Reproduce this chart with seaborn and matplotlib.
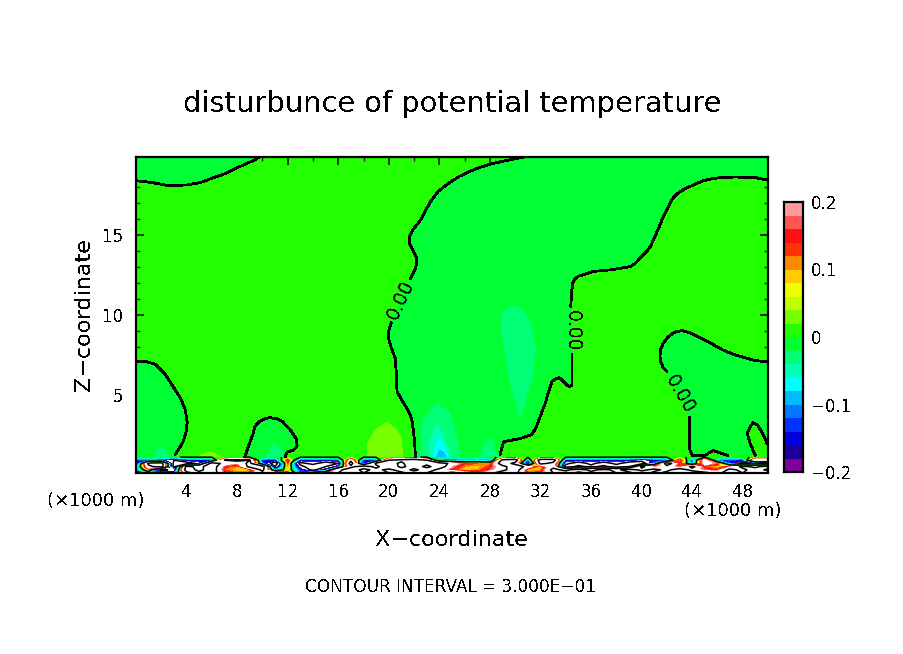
import numpy as np
import matplotlib
matplotlib.use('Agg')
import matplotlib.pyplot as plt
from matplotlib.colors import ListedColormap, BoundaryNorm
import seaborn as sns

# contour bands of the colour bar, low to high
band_colors = ['#800099', '#1a0099', '#0000dd', '#0033ff', '#0077ff', '#00bbff', '#00ffff', '#00ffbb', '#00ff77', '#00ff33',
               '#22ff00', '#77ff00', '#bbff00', '#f0ff00', '#ffcc00', '#ff8800', '#ff3300', '#ff1010', '#ff5555', '#ff9a9a']
band_edges = [-0.2, -0.18, -0.16, -0.14, -0.12, -0.1, -0.08, -0.06, -0.04, -0.02, 0.0,
              0.02, 0.04, 0.06, 0.08, 0.1, 0.12, 0.14, 0.16, 0.18, 0.2]
cbar_ticks = [0.2, 0.1, 0, -0.1, -0.2]
cbar_labels = ['0.2', '0.1', '0', '\u22120.1', '\u22120.2']

# zero contour, (x, z) in km
top_left_x = [0.0, 1.3, 2.5, 4.0, 5.1, 6.1, 7.2, 8.2, 9.2, 9.9]
top_left_z = [18.37, 18.25, 18.07, 18.1, 18.25, 18.55, 18.85, 19.25, 19.6, 19.9]
mid_upper_x = [31.0, 30.1, 29.0, 28.0, 27.2, 26.4, 25.6, 24.8, 23.9, 23.3, 22.9, 22.5, 21.9, 21.65, 21.6, 21.9, 22.2, 22.2, 22.07, 21.7]
mid_upper_z = [19.9, 19.75, 19.58, 19.4, 19.2, 18.95, 18.65, 18.25, 17.7, 17.05, 16.5, 15.9, 15.3, 14.9, 14.5, 14.0, 13.55, 13.2, 12.8, 12.25]
mid_lower_x = [20.2, 20.0, 19.95, 20.2, 20.5, 20.6, 20.65, 21.0, 21.5, 21.8, 21.9, 22.05, 22.1]
mid_lower_z = [9.5, 9.0, 8.6, 7.9, 7.3, 6.3, 5.2, 4.7, 4.06, 3.5, 3.0, 2.0, 1.1]
right_lower_x = [28.8, 28.95, 29.1, 29.7, 30.4, 31.3, 31.6, 31.8, 32.1, 32.4, 32.6, 32.9, 33.1, 33.5, 33.8, 34.1, 34.3, 34.5, 34.5]
right_lower_z = [1.25, 1.7, 2.06, 2.15, 2.25, 2.5, 2.85, 3.25, 3.9, 4.5, 5.1, 5.8, 5.95, 6.05, 5.85, 5.6, 5.5, 5.6, 7.5]
right_upper_x = [34.4, 34.45, 34.55, 34.75, 35.0, 35.6, 36.2, 37.6, 39.1, 39.5, 39.9, 40.4, 40.7, 41.0, 41.3, 41.7, 42.2, 42.5, 42.9, 43.5, 44.1, 44.8, 45.6, 46.5, 47.5, 49.1, 50.0]
right_upper_z = [10.5, 11.3, 12.0, 12.25, 12.4, 12.55, 12.7, 12.8, 13.0, 13.2, 13.56, 13.95, 14.25, 14.8, 15.3, 16.1, 16.9, 17.3, 17.6, 17.9, 18.1, 18.35, 18.5, 18.58, 18.6, 18.55, 18.4]
dome_upper_x = [50.0, 49.0, 48.2, 47.3, 46.4, 45.5, 44.6, 43.9, 43.2, 42.6, 42.1, 41.7, 41.5, 41.45, 41.5, 41.7, 42.0]
dome_upper_z = [7.06, 7.12, 7.3, 7.5, 7.8, 8.2, 8.55, 8.85, 9.0, 8.9, 8.6, 8.2, 7.8, 7.4, 7.06, 6.7, 6.45]
dome_lower_x = [43.8, 43.8, 44.0, 45.0, 45.65, 46.8]
dome_lower_z = [3.6, 1.6, 1.2, 1.2, 1.5, 1.2]
notch_x = [49.0, 48.6, 48.35, 48.8, 49.2, 49.6, 50.0]
notch_z = [1.2, 1.9, 2.6, 3.25, 3.1, 2.5, 1.9]
left_x = [0.0, 0.8, 1.5, 2.3, 2.85, 3.5, 3.9, 4.05, 3.95, 3.7, 3.1]
left_z = [7.06, 7.06, 6.9, 6.3, 5.6, 4.8, 4.06, 3.25, 2.6, 2.0, 1.25]
hill_x = [8.6, 8.9, 9.25, 9.4, 9.75, 10.2, 10.6, 11.1, 11.6, 12.2, 12.7, 12.75, 12.5, 11.95, 11.8]
hill_z = [1.1, 1.8, 2.5, 3.0, 3.3, 3.5, 3.56, 3.5, 3.3, 2.8, 2.2, 1.8, 1.55, 1.4, 1.1]

# closed patches inside the contours: x, z
patch_a_x = [18.3, 18.35, 19.0, 19.85, 20.6, 21.0, 21.1]
patch_a_z = [1.1, 2.0, 2.85, 3.25, 2.8, 2.2, 1.1]
patch_b_x = [22.5, 22.6, 22.7, 23.8, 24.8, 25.4, 25.6]
patch_b_z = [1.1, 2.0, 3.4, 4.4, 3.9, 2.2, 1.1]
patch_c_x = [23.2, 23.3, 23.8, 24.3, 24.9]
patch_c_z = [1.1, 2.2, 3.1, 2.5, 1.1]
patch_d_x = [23.5, 23.7, 24.1, 24.5, 24.7]
patch_d_z = [1.1, 1.9, 2.2, 1.6, 1.1]
patch_e_x = [23.8, 24.0, 24.3, 24.5]
patch_e_z = [1.1, 1.5, 1.4, 1.1]
patch_f_x = [29.8, 29.0, 28.9, 29.35, 29.6, 30.4, 30.9, 31.3, 31.6, 31.2, 30.6]
patch_f_z = [10.6, 10.1, 9.2, 7.2, 5.75, 3.6, 4.9, 6.1, 7.8, 9.5, 10.3]
patch_g_x = [27.2, 27.6, 28.2, 28.3, 28.7]
patch_g_z = [1.1, 1.9, 2.3, 1.6, 1.1]
patch_h_x = [1.4, 1.8, 2.2, 2.6]
patch_h_z = [1.1, 1.7, 1.6, 1.1]
patch_i_x = [10.3, 10.9, 11.5, 11.8]
patch_i_z = [1.1, 1.9, 1.5, 1.1]
patch_j_x = [4.9, 5.8, 6.8]
patch_j_z = [1.1, 1.45, 1.1]

# terrain layer near the ground, x = 0..50 km
layer_x = np.arange(51)
layer_z = [0.1, 0.3, 0.5, 0.7, 0.9, 1.1]
row_01 = [-.25, -.08, -.14, -.12, .25, .35, .4, .16, .12, .14,
          .25, .3, .15, -.12, .1, .12, .3, .4, .3, .4,
          .3, .25, .4, .3, .25, .35, .25, .16, .25, .4,
          .35, .12, .14, .3, .4, .25, .35, .4, .3, .25,
          .4, .25, .35, .3, .4, .35, .25, .4, .3, .35, .4]
row_03 = [-.14, .1, -.35, -.25, .4, .25, .4, .12, .08, .08,
          .35, -.12, .06, -.15, -.35, -.15, .25, .4, .25, .35,
          .25, .4, .25, .4, .25, .14, .08, .1, .16, .25,
          .4, .08, .1, .35, .25, .4, .25, .35, .25, .4,
          .25, .35, .25, .4, .25, .16, .14, .35, .25, .4, .25]
row_05 = [-.12, .25, .4, -.35, .35, .25, .4, .14, .1, .35,
          .4, -.3, .1, -.25, -.4, -.3, -.15, .25, .4, .25,
          .45, .25, .4, .25, .4, .18, .1, .08, .14, .25,
          .4, .25, .08, .25, -.4, -.25, -.35, -.25, -.4, -.3,
          .35, .15, .25, .12, .35, .12, .08, .16, .35, .25, .4]
row_07 = [-.25, .35, .4, -.35, -.4, -.25, .4, .25, .18, .35,
          -.12, -.4, .12, -.35, -.25, -.4, -.3, .4, -.25, .35,
          .4, .25, .5, .35, .4, .25, .14, .12, .1, .4,
          .25, -.3, .35, .25, -.25, -.4, -.25, -.4, -.25, -.4,
          -.4, -.1, .4, .14, -.12, .25, .16, -.15, -.35, -.25, -.4]
row_09 = [-.15, -.14, -.16, -.3, -.16, -.16, -.16, .3, .35, .3,
          -.15, -.16, .16, -.16, -.16, -.16, -.14, .25, -.15, -.15,
          .3, .35, .4, .3, -.15, -.16, -.14, -.12, -.15, .35,
          .4, -.14, .4, .4, -.16, -.16, -.16, -.16, -.16, -.16,
          -.25, -.16, -.16, .18, -.14, .25, -.12, -.14, -.16, .3, .3]
row_11 = [-.01, -.01, -.01, -.01, .01, .01, .01, .01, .01, -.01,
          -.01, -.01, .01, .01, .01, .01, .01, .01, .01, .01,
          .01, .01, .01, -.01, -.01, -.01, -.01, -.01, -.01, .01,
          .01, .01, .01, .01, .01, .01, .01, .01, .01, .01,
          .01, .01, .01, .01, -.01, -.01, -.01, -.01, -.01, .01, .01]

sns.set_style('ticks')
plt.rcParams['font.family'] = ['DejaVu Sans']
plt.rcParams['text.antialiased'] = False
plt.rcParams['text.color'] = 'black'
plt.rcParams['xtick.labelcolor'] = 'black'
plt.rcParams['ytick.labelcolor'] = 'black'

W, H = 904, 654
fig = plt.figure(figsize=(W / 100, H / 100), dpi=100, facecolor='white')
ax = fig.add_axes([136 / W, 1 - 473 / H, 632 / W, 316 / H])
cmap = ListedColormap(band_colors)
cmap.set_over('white')
cmap.set_under('white')
norm = BoundaryNorm(band_edges, cmap.N)
POS = band_colors[10]
NEG = band_colors[9]
ax.set_facecolor(POS)


def patch(xs, zs, color, z=1):
    ax.fill(xs, zs, color=color, lw=0, antialiased=False, zorder=z)


# negative regions bounded by the zero contour
patch(top_left_x + [0.0], top_left_z + [19.9], NEG)
patch(mid_upper_x + mid_lower_x + [28.8] + right_lower_x + right_upper_x + [50.0],
      mid_upper_z + mid_lower_z + [1.1] + right_lower_z + right_upper_z + [19.9], NEG)
patch(left_x + [3.1, 0.0], left_z + [1.1, 1.1], NEG)
patch(hill_x, hill_z, NEG)
patch(dome_upper_x + dome_lower_x + notch_x + [50.0],
      dome_upper_z + dome_lower_z + notch_z + [7.06], NEG)

patch(patch_a_x, patch_a_z, band_colors[11], 2)
patch(patch_j_x, patch_j_z, band_colors[11], 2)
for xs, zs in [(patch_b_x, patch_b_z), (patch_f_x, patch_f_z), (patch_g_x, patch_g_z),
               (patch_h_x, patch_h_z), (patch_i_x, patch_i_z)]:
    patch(xs, zs, band_colors[8], 2)
patch(patch_c_x, patch_c_z, band_colors[7], 3)
patch(patch_d_x, patch_d_z, band_colors[6], 4)
patch(patch_e_x, patch_e_z, band_colors[5], 5)

layer = np.array([row_01, row_03, row_05, row_07, row_09, row_11])
ax.contourf(layer_x, layer_z, layer, levels=band_edges, cmap=cmap, norm=norm,
            extend='both', antialiased=False, zorder=6)
ax.contour(layer_x, layer_z, layer, levels=[-0.3, 0, 0.3], colors='k',
           linewidths=1.1, linestyles='solid', zorder=7)

for xs, zs in [(top_left_x, top_left_z), (mid_upper_x, mid_upper_z), (mid_lower_x, mid_lower_z),
               (right_lower_x, right_lower_z), (right_upper_x, right_upper_z),
               (dome_upper_x, dome_upper_z), (dome_lower_x, dome_lower_z),
               (notch_x, notch_z), (left_x, left_z), (hill_x, hill_z)]:
    sns.lineplot(x=xs, y=zs, sort=False, estimator=None, color='k', lw=1.3, ax=ax,
                 antialiased=False, zorder=8)

ax.text(20.9, 10.9, '0.00', rotation=65, ha='center', va='center', fontsize=13.5, zorder=9)
ax.text(34.5, 9.0, '0.00', rotation=-90, ha='center', va='center', fontsize=13.5, zorder=9)
ax.text(43.04, 5.0, '0.00', rotation=-60, ha='center', va='center', fontsize=13.5, zorder=9)

ax.set_xlim(0, 50)
ax.set_ylim(0.1, 19.85)
ax.set_xticks(np.arange(4, 50, 4))
ax.set_xticks(np.arange(2, 50, 4), minor=True)
ax.set_yticks([5, 10, 15])
ax.set_yticks(np.arange(1, 20), minor=True)
ax.tick_params(which='major', direction='in', length=6, width=1.1, top=True, right=True,
               labelsize=12, color='k')
ax.tick_params(axis='x', which='major', pad=7)
ax.tick_params(axis='y', which='major', pad=9)
ax.tick_params(which='minor', direction='in', length=3.2, width=1.0, top=True, right=True)
ax.grid(False)
for s in ax.spines.values():
    s.set_visible(True)
    s.set_linewidth(1.6)
    s.set_color('k')
    s.set_zorder(10)

# colour bar
cax = fig.add_axes([784 / W, 1 - 472 / H, 19 / W, 270 / H])
cells = np.array([[0.5 * (a + b)] for a, b in zip(band_edges[:-1], band_edges[1:])])[::-1]
sns.heatmap(cells, cmap=ListedColormap(band_colors), vmin=-0.2, vmax=0.2, cbar=False,
            xticklabels=False, yticklabels=False, ax=cax)
cax.set_xticks([])
cax.set_yticks([(0.2 - t) / 0.02 for t in cbar_ticks])
cax.set_yticklabels(cbar_labels, rotation=0)
cax.yaxis.tick_right()
cax.tick_params(axis='y', length=0, labelsize=12, pad=6)
for s in cax.spines.values():
    s.set_visible(True)
    s.set_linewidth(1.6)
    s.set_color('k')

fig.text(452 / W, 1 - 104 / H, 'disturbunce of potential temperature', ha='center', va='center', fontsize=20.8)
fig.text(452 / W, 1 - 540 / H, 'X\u2212coordinate', ha='center', va='center', fontsize=16)
fig.text(84 / W, 1 - 315 / H, 'Z\u2212coordinate', ha='center', va='center', rotation=90, fontsize=16)
fig.text(95.5 / W, 1 - 501 / H, '(\u00d71000 m)', ha='center', va='center', fontsize=13)
fig.text(732.5 / W, 1 - 511 / H, '(\u00d71000 m)', ha='center', va='center', fontsize=13)
fig.text(451 / W, 1 - 587 / H, 'CONTOUR INTERVAL = 3.000E\u221201', ha='center', va='center', fontsize=12.2)

fig.savefig('out.png', dpi=100)
